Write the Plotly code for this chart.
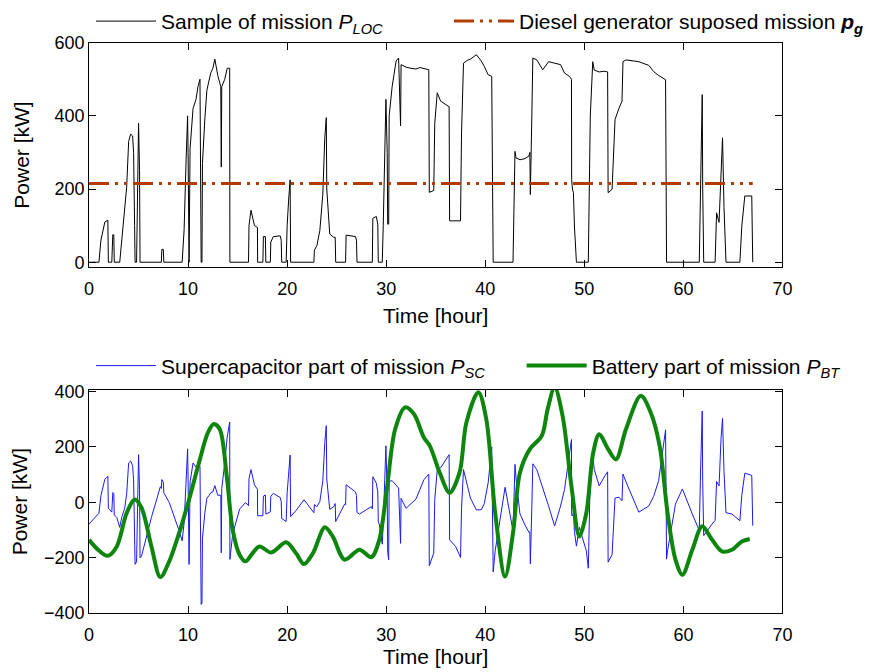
import plotly.graph_objects as go

# mission load sample P_LOC [kW] vs time [hour]
t_loc = [0, 1.0, 1.2, 1.4, 1.6, 1.9, 1.95, 2.3, 2.4, 2.5, 2.55, 3.1, 3.3, 3.6, 3.8, 4.0, 4.2, 4.4, 4.5, 4.6,
         4.65, 4.8, 4.9, 5.0, 5.1, 5.15, 7.3, 7.35, 7.5, 7.55, 9.4, 9.6, 9.8, 9.95, 10.0, 10.1, 10.2, 10.5,
         10.8, 11.0, 11.2, 11.32, 11.4, 11.45, 11.7, 11.9, 12.1, 12.3, 12.5, 12.7, 13.0, 13.3, 13.35, 13.4,
         13.7, 13.95, 14.2, 14.22, 16.1, 16.15, 16.35, 16.7, 17.0, 17.02, 17.55, 17.6, 17.8, 17.85, 18.3,
         18.35, 18.6, 19.3, 19.4, 19.45, 19.9, 20.0, 20.15, 20.3, 20.35, 22.7, 22.75, 23.0, 23.3, 23.6, 23.8,
         23.95, 24.0, 24.3, 24.7, 24.85, 24.9, 25.9, 25.95, 26.9, 27.0, 27.05, 28.6, 28.65, 29.0, 29.15, 29.2,
         29.6, 29.7, 29.9, 29.97, 30.1, 30.15, 30.25, 30.3, 30.6, 31.0, 31.25, 31.45, 31.5, 32.0, 32.5, 33.0,
         33.4, 33.8, 34.3, 34.35, 34.8, 34.9, 35.15, 35.5, 36.0, 36.35, 36.4, 37.5, 37.6, 37.8, 38.2, 38.5,
         39.1, 39.6, 39.9, 40.3, 40.65, 40.7, 40.8, 42.8, 42.9, 43.0, 43.1, 43.5, 44.0, 44.4, 44.5, 44.55,
         44.7, 44.8, 45.2, 45.8, 46.4, 47.0, 47.6, 48.0, 48.5, 48.7, 48.72, 48.8, 48.9, 49.0, 49.2, 50.4,
         50.6, 50.85, 51.0, 51.5, 52.0, 52.35, 52.4, 52.8, 53.1, 53.5, 53.8, 53.9, 54.2, 55.5, 56.5, 57.0,
         57.5, 58.2, 58.3, 61.6, 61.75, 61.9, 61.95, 62.05, 63.2, 63.35, 63.6, 63.8, 63.95, 64.1, 64.3, 65.7,
         65.9, 66.2, 66.9, 67.0]
p_loc = [0, 0, 60, 85, 110, 115, 0, 0, 75, 75, 0, 0, 60, 130, 205, 330, 350, 345, 300, 100,
         0, 0, 280, 380, 250, 0, 0, 35, 35, 0, 0, 90, 280, 400, 300, 0, 310, 420,
         445, 480, 500, 0, 0, 270, 395, 470, 495, 518, 530, 555, 510, 480, 260, 480,
         500, 530, 530, 0, 0, 100, 142, 100, 95, 0, 0, 70, 70, 0, 0,
         55, 70, 72, 60, 0, 0, 100, 170, 225, 0, 0, 33, 45, 87, 186, 340,
         395, 200, 77, 68, 68, 0, 0, 74, 70, 60, 0, 0, 120, 125, 104, 0,
         0, 100, 395, 445, 300, 104, 104, 400, 480, 550, 558, 373, 540, 533, 530, 528,
         532, 530, 526, 191, 196, 380, 463, 440, 430, 425, 113, 113, 350, 544, 552, 555,
         567, 550, 535, 512, 508, 267, 0, 0, 150, 303, 285, 280, 283, 290, 300, 185,
         400, 558, 553, 526, 548, 545, 540, 517, 508, 500, 226, 200, 190, 99, 0, 0,
         400, 548, 525, 520, 522, 520, 190, 199, 390, 421, 440, 548, 553, 548, 538, 521,
         510, 499, 0, 0, 250, 458, 200, 0, 0, 135, 109, 272, 340, 150, 0, 0,
         100, 181, 181, 0]

# diesel generator supposed mission p_g [kW]
t_pg = [0, 67]
p_pg = [215, 215]

# battery part of mission P_BT [kW]
t_bt = [0, 1.0, 1.9, 2.8, 3.8, 4.6, 5.3, 6.3, 7.2, 8.1, 9.1, 10.1, 11.1, 12.0, 12.6, 13.2, 13.9, 14.5, 15.2,
        15.8, 16.5, 17.2, 18.4, 19.9, 20.9, 21.7, 22.6, 23.8, 24.6, 25.8, 27.3, 28.5, 29.3, 30.1, 30.9,
        31.9, 32.8, 33.8, 34.4, 35.4, 36.4, 37.4, 38.1, 39.3, 40.1, 41.0, 42.0, 42.8, 43.5, 44.5, 45.7,
        46.3, 47.0, 47.8, 48.7, 49.5, 50.2, 50.9, 51.5, 52.4, 53.2, 54.2, 55.7, 56.7, 57.6, 58.4, 59.2,
        59.9, 60.9, 61.9, 62.9, 63.9, 64.9, 65.9, 66.7]
p_bt = [-136, -175, -194, -160, -39, 10, -20, -160, -271, -214, -111, 10, 143, 252, 283, 264, 95, -99, -190,
        -214, -185, -160, -182, -145, -185, -224, -185, -91, -124, -208, -172, -199, -136, 58, 264,
        343, 319, 234, 204, 107, 34, 107, 289, 398, 301, -39, -269, -111, 107, 192, 240,
        337, 416, 313, 58, -124, -39, 180, 246, 192, 155, 264, 385, 325, 204, -39, -208,
        -263, -172, -87, -136, -178, -172, -142, -133]

# supercapacitor part of mission P_SC [kW]
t_sc = [0, 1.0, 1.2, 1.4, 1.6, 1.9, 1.95, 2.3, 2.4, 2.5, 2.55, 2.8, 3.1, 3.3, 3.6, 3.8, 4.0, 4.2, 4.4, 4.5,
        4.6, 4.65, 4.8, 4.9, 5.0, 5.1, 5.15, 5.3, 6.3, 7.2, 7.3, 7.35, 7.5, 7.55, 8.1, 9.1, 9.4, 9.6, 9.8,
        9.95, 10.0, 10.1, 10.2, 10.5, 10.8, 11.0, 11.2, 11.32, 11.4, 11.45, 11.7, 11.9, 12.1, 12.3, 12.5,
        12.7, 13.0, 13.3, 13.35, 13.4, 13.7, 13.95, 14.2, 14.22, 14.5, 15.2, 15.8, 16.1, 16.15, 16.35, 16.7,
        17.0, 17.02, 17.55, 17.6, 17.8, 17.85, 18.3, 18.35, 18.6, 19.3, 19.4, 19.45, 19.9, 20.0, 20.15,
        20.3, 20.35, 20.9, 21.7, 22.6, 22.7, 22.75, 23.0, 23.3, 23.6, 23.8, 23.95, 24.0, 24.3, 24.7, 24.85,
        24.9, 25.8, 25.9, 25.95, 26.9, 27.0, 27.05, 27.3, 28.5, 28.6, 28.65, 29.0, 29.15, 29.2, 29.3, 29.6,
        29.7, 29.9, 29.97, 30.1, 30.15, 30.25, 30.3, 30.6, 31.0, 31.25, 31.45, 31.5, 32.0, 33.0, 33.8, 34.3,
        34.35, 34.8, 34.9, 35.15, 35.5, 36.0, 36.35, 36.4, 37.0, 37.5, 37.6, 37.8, 38.5, 39.1, 39.6, 39.9,
        40.3, 40.65, 40.7, 40.8, 41.0, 42.0, 42.8, 42.9, 43.0, 43.1, 43.5, 44.0, 44.4, 44.5, 44.55, 44.7,
        44.8, 45.2, 45.8, 46.4, 47.0, 47.6, 48.0, 48.5, 48.7, 48.72, 48.8, 48.9, 49.0, 49.2, 49.5, 50.2,
        50.4, 50.6, 50.85, 51.0, 51.5, 52.0, 52.35, 52.4, 52.8, 53.1, 53.5, 53.8, 53.9, 54.2, 55.5, 56.5,
        57.0, 57.5, 58.2, 58.3, 58.4, 59.2, 59.9, 60.9, 61.6, 61.75, 61.9, 61.95, 62.05, 62.9, 63.2, 63.35,
        63.6, 63.8, 63.95, 64.1, 64.3, 64.9, 65.7, 65.9, 66.2, 66.9, 67.0]
p_sc = [-79, -40, 24, 53, 83, 94, -22, -36, 35, 31, -46, -55, -91, -55, -22, 29, 142, 149, 132, 81,
        -125, -225, -216, 68, 172, 46, -201, -195, -55, 56, 50, 82, 72, 34, -1, -104, -140, -74, 91,
        193, 87, -225, 72, 142, 127, 135, 130, -370, -365, -130, -36, 15, 23, 35, 37,
        60, 25, 25, -183, 49, 142, 236, 290, -207, -116, -25, -1, -13, 85, 118, 63,
        47, -49, -49, 22, 26, -43, -35, 21, 32, 17, 2, -59, -70, 34, 110,
        171, -52, -30, 9, -30, -38, -9, -16, 2, 78, 216, 277, 84, -26, -16, -5,
        -70, -7, -9, 63, 37, 24, -37, -43, -16, -24, 92, 69, 37, -71, -79, -152,
        -76, 171, 204, 27, -182, -208, 75, 78, 63, 51, -149, 14, -22, 11, 81, 102,
        -230, -184, 10, 117, 125, 152, 172, -136, -160, -200, -24, 118, 15, -28, -27, -5,
        72, 200, -22, -252, -176, 54, -104, 15, 137, 88, -42, -82, -109, -107, -223, -15,
        139, 118, 55, -15, -86, -14, 46, 178, 227, -45, -50, -38, -106, -159, -91, -176,
        -239, 98, 169, 119, 59, 91, 110, -217, -190, 15, 18, 5, 102, 74, -36, -14,
        21, 78, 262, -206, -176, -7, 48, -43, -102, 135, 330, 74, -121, -79, -66, 75,
        59, 231, 303, 112, -38, -43, -67, 27, 105, 97, -85]

x_ticks = [0, 10, 20, 30, 40, 50, 60, 70]

font_name = "Liberation Sans, Arial, sans-serif"

fig = go.Figure()

fig.add_trace(go.Scatter(x=t_loc, y=p_loc, mode="lines",
                         line=dict(color="black", width=1),
                         name="Sample of mission <i>P</i><sub><i>LOC</i></sub>",
                         xaxis="x", yaxis="y", legend="legend"))
fig.add_trace(go.Scatter(x=t_pg, y=p_pg, mode="lines",
                         line=dict(color="#b23c08", width=3, dash="20px,6px,3px,6px,3px,6px"),
                         name="Diesel generator suposed mission <b><i>p</i></b><sub><b><i>g</i></b></sub>",
                         xaxis="x", yaxis="y", legend="legend2"))

fig.add_trace(go.Scatter(x=t_sc, y=p_sc, mode="lines",
                         line=dict(color="#1a1aee", width=1),
                         name="Supercapacitor part of mission <i>P</i><sub><i>SC</i></sub>",
                         xaxis="x2", yaxis="y2", legend="legend3"))
fig.add_trace(go.Scatter(x=t_bt, y=p_bt, mode="lines",
                         line=dict(color="#0e860e", width=4, shape="spline", smoothing=0.9),
                         name="Battery part of mission <i>P</i><sub><i>BT</i></sub>",
                         xaxis="x2", yaxis="y2", legend="legend4"))

axis_style = dict(showline=True, linecolor="black", linewidth=1, mirror="ticks",
                  ticks="inside", ticklen=7, tickcolor="black", showgrid=False,
                  zeroline=False, automargin=False, tickfont=dict(size=18, color="black"))

ytitle = dict(text="Power [kW]", font=dict(size=21), standoff=19)


def legend_box(x, y):
    return dict(orientation="h", x=x, y=y, xanchor="left", yanchor="middle",
                font=dict(size=21), bgcolor="rgba(0,0,0,0)", itemwidth=60)


fig.update_layout(
    width=875, height=672,
    margin=dict(l=0, r=0, t=0, b=0, autoexpand=False),
    plot_bgcolor="white", paper_bgcolor="white",
    font=dict(family=font_name, size=18, color="black"),
    showlegend=True,
    xaxis=dict(domain=[0.0926, 0.8851], range=[0, 70], tickvals=x_ticks, anchor="y",
               ticklabelstandoff=5, title=dict(text="Time [hour]", font=dict(size=21), standoff=10),
               **axis_style),
    yaxis=dict(domain=[0.6141, 0.9484], range=[-14, 600], tickvals=[0, 200, 400, 600], anchor="x",
               title=ytitle, **axis_style),
    xaxis2=dict(domain=[0.0926, 0.8851], range=[0, 70], tickvals=x_ticks, anchor="y2",
                ticklabelstandoff=5, title=dict(text="Time [hour]", font=dict(size=21), standoff=4),
                **axis_style),
    yaxis2=dict(domain=[0.0993, 0.4315], range=[-402, 406], tickvals=[-400, -200, 0, 200, 400], anchor="x2",
                title=ytitle, **axis_style),
    legend=legend_box(0.0949, 0.980),
    legend2=legend_box(0.504, 0.980),
    legend3=legend_box(0.0949, 0.4673),
    legend4=legend_box(0.587, 0.4673),
)

fig.write_html("out.html")
